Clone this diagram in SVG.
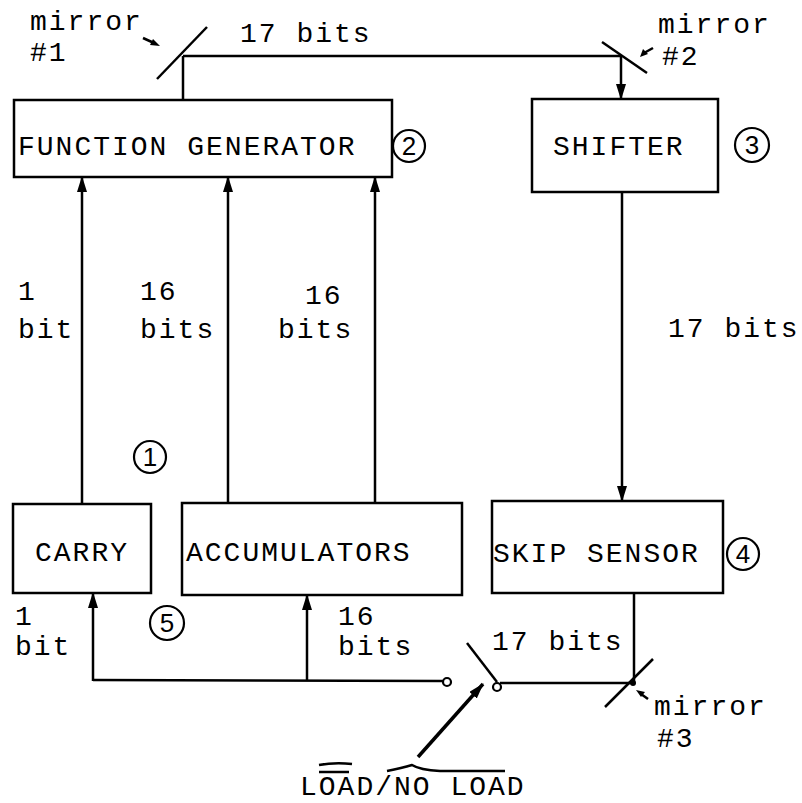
<svg xmlns="http://www.w3.org/2000/svg" width="802" height="803" viewBox="0 0 802 803">
<defs>
<marker id="ah" markerWidth="16" markerHeight="10" refX="15" refY="5" orient="auto" markerUnits="userSpaceOnUse" viewBox="0 0 16 10">
<path d="M0,0 L16,5 L0,10 Z" fill="#000"/>
</marker>
<style>
.box{fill:#fff;stroke:#000;stroke-width:2.5}
.ln{fill:none;stroke:#000;stroke-width:2.5}
.t{font-family:"Liberation Mono","Courier New",monospace;font-size:28px;letter-spacing:2px;fill:#000}
.n{font-family:"Liberation Sans",Arial,sans-serif;font-size:26px;fill:#000;text-anchor:middle}
.c{fill:none;stroke:#000;stroke-width:2.2}
</style>
</defs>
<rect width="802" height="803" fill="#fff"/>

<g id="connectors">
<line class="ln" x1="183" y1="56" x2="621" y2="56"/>
<line class="ln" x1="183" y1="56" x2="183" y2="100"/>
<line class="ln" x1="621" y1="56" x2="621" y2="99" marker-end="url(#ah)"/>
<line class="ln" x1="82" y1="504" x2="82" y2="177" marker-end="url(#ah)"/>
<line class="ln" x1="228" y1="503" x2="228" y2="177" marker-end="url(#ah)"/>
<line class="ln" x1="375" y1="503" x2="375" y2="177" marker-end="url(#ah)"/>
<line class="ln" x1="622" y1="192" x2="622" y2="501" marker-end="url(#ah)"/>
<line class="ln" x1="634" y1="593" x2="634" y2="683"/>
<line class="ln" x1="500" y1="683" x2="634" y2="683"/>
<line class="ln" x1="93" y1="680" x2="443" y2="681"/>
<line class="ln" x1="93" y1="681" x2="93" y2="593" marker-end="url(#ah)"/>
<line class="ln" x1="307" y1="680" x2="307" y2="595" marker-end="url(#ah)"/>
<circle cx="447" cy="682" r="4" fill="#fff" stroke="#000" stroke-width="2.2"/>
<line class="ln" x1="467" y1="643" x2="497" y2="682"/>
<circle cx="497" cy="687" r="4" fill="#fff" stroke="#000" stroke-width="2.2"/>
<line x1="418" y1="757" x2="483" y2="684" stroke="#000" stroke-width="3.5" marker-end="url(#ah)"/>
</g>

<g id="mirror1">
<line class="ln" x1="157" y1="79" x2="207" y2="27"/>
<path d="M143,38 L154,43" class="ln" stroke-width="1.5"/>
<path d="M160,46 L150,45 L153,39 Z" fill="#000"/>
<text class="t" x="30" y="30">mirror</text>
<text class="t" x="30" y="61">#1</text>
</g>
<text class="t" x="240" y="42">17 bits</text>

<g id="mirror2">
<line class="ln" x1="602" y1="42" x2="647" y2="73"/>
<path d="M653,48 L644,53" class="ln" stroke-width="1.5"/>
<path d="M640,57 L643,49 L648,54 Z" fill="#000"/>
<text class="t" x="658" y="33">mirror</text>
<text class="t" x="662" y="65">#2</text>
</g>

<g id="fg">
<rect class="box" x="14" y="100" width="378" height="77"/>
<text class="t" x="18" y="155">FUNCTION GENERATOR</text>
<circle class="c" cx="409" cy="146" r="16"/>
<text class="n" x="409" y="155">2</text>
</g>

<g id="shifter">
<rect class="box" x="532" y="99" width="186" height="93"/>
<text class="t" x="553" y="155">SHIFTER</text>
<circle class="c" cx="752" cy="145" r="17"/>
<text class="n" x="752" y="154">3</text>
</g>

<g id="carry">
<rect class="box" x="13" y="504" width="138" height="89"/>
<text class="t" x="35" y="561">CARRY</text>
</g>

<g id="accumulators">
<rect class="box" x="182" y="503" width="280" height="92"/>
<text class="t" x="186" y="561">ACCUMULATORS</text>
</g>

<g id="skipsensor">
<rect class="box" x="492" y="501" width="231" height="92"/>
<text class="t" x="493" y="562">SKIP SENSOR</text>
<circle class="c" cx="743" cy="554" r="16"/>
<text class="n" x="743" y="563">4</text>
</g>

<g id="mirror3">
<line class="ln" x1="605" y1="707" x2="653" y2="659"/>
<circle cx="633" cy="683" r="3" fill="#000"/>
<path d="M648,699 L641,694" class="ln" stroke-width="1.5"/>
<path d="M636,690 L645,692 L641,697 Z" fill="#000"/>
<text class="t" x="654" y="715">mirror</text>
<text class="t" x="657" y="747">#3</text>
</g>

<g id="labels">
<circle class="c" cx="150" cy="457" r="16"/>
<text class="n" x="150" y="466">1</text>
<circle class="c" cx="167" cy="623" r="17"/>
<text class="n" x="167" y="632">5</text>

<text class="t" x="18" y="300">1</text>
<text class="t" x="18" y="338">bit</text>
<text class="t" x="140" y="300">16</text>
<text class="t" x="140" y="338">bits</text>
<text class="t" x="305" y="304">16</text>
<text class="t" x="278" y="338">bits</text>
<text class="t" x="668" y="337">17 bits</text>

<text class="t" x="15" y="625">1</text>
<text class="t" x="15" y="655">bit</text>
<text class="t" x="338" y="625">16</text>
<text class="t" x="338" y="655">bits</text>
<text class="t" x="492" y="650">17 bits</text>

<text class="t" x="300" y="795">LOAD/NO LOAD</text>
<path d="M319,765 Q335,762 352,764" class="ln" stroke-width="3"/>
<path d="M319,772 L349,772" class="ln" stroke-width="3.5"/>
<path d="M387,771 Q402,768 412,765 Q420,770 440,771 L505,771" class="ln" stroke-width="2.5"/>
</g>
</svg>
